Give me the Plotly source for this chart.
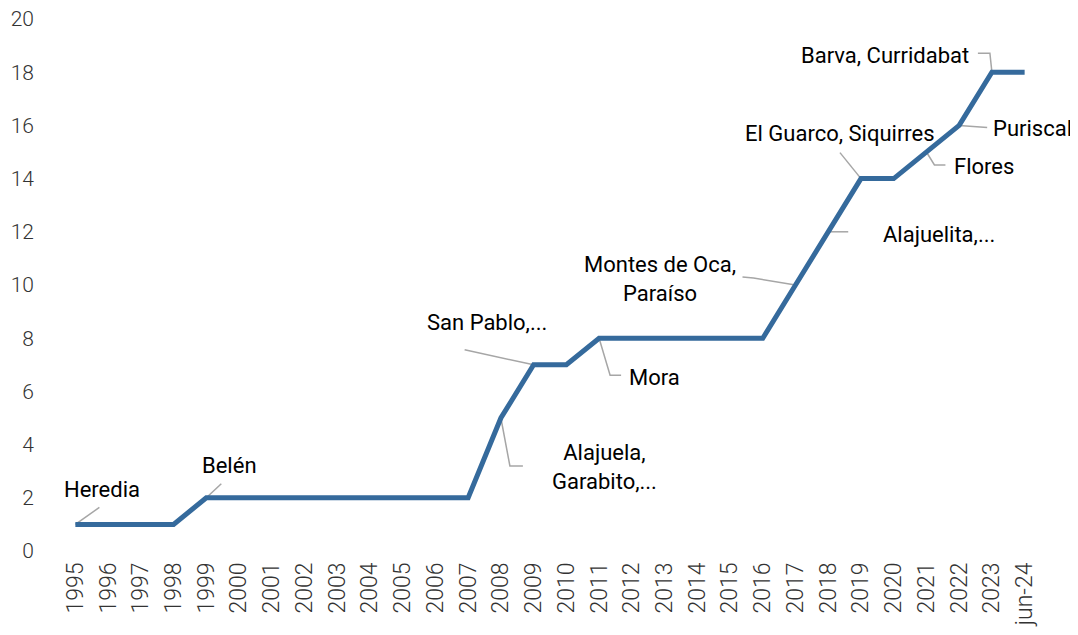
import plotly.graph_objects as go

# ── data ──────────────────────────────────────────────────────────────
periods = ["1995", "1996", "1997", "1998", "1999", "2000", "2001", "2002",
           "2003", "2004", "2005", "2006", "2007", "2008", "2009", "2010",
           "2011", "2012", "2013", "2014", "2015", "2016", "2017", "2018",
           "2019", "2020", "2021", "2022", "2023", "jun-24"]
municipios = [1, 1, 1, 1, 2, 2, 2, 2, 2, 2, 2, 2, 2, 5, 7, 7,
              8, 8, 8, 8, 8, 8, 10, 12, 14, 14, 15, 16, 18, 18]

label_period = ["1995", "1999", "2009", "2008", "2011", "2017", "2018",
                "2019", "2021", "2022", "2023"]
label_text = ["Heredia", "Belén", "San Pablo,...", "Alajuela,<br>Garabito,...",
              "Mora", "Montes de Oca,<br>Paraíso", "Alajuelita,...",
              "El Guarco, Siquirres", "Flores", "Puriscal", "Barva, Curridabat"]

# ── layout geometry (pixels) ──────────────────────────────────────────
# page body has an 8px margin, so the figure is a bit smaller than the window
W, H = 1070, 627
ML, MR, MT, MB = 51, 37, 11, 84
X0, X1 = -0.5, len(periods) - 0.5
Y0, Y1 = 0, 20
PX = (W - ML - MR) / (X1 - X0)   # px per category
PY = (H - MT - MB) / (Y1 - Y0)   # px per unit

# text offset from point and leader path (pixel offsets, y down)
text_off = [(27, -35), (23, -32), (-47, -42), (104, 49), (55, 39),
            (-136, -6), (111, 3), (-21, -45), (58, 14), (73, 3), (-107, -17)]
leader_px = [
    [(0, 0), (24, -17)],
    [(0, 0), (15, -14)],
    [(0, 0), (-69, -15)],
    [(0, 0), (9, 48), (22, 48)],
    [(0, 0), (11, 37), (22, 37)],
    [(0, 0), (-42, -7), (-53, -8)],
    [(0, 0), (20, 0)],
    [(0, 0), (-21, -26)],
    [(0, 0), (8, 13), (19, 13)],
    [(0, 0), (28, 2)],
    [(0, 0), (-2, -19), (-14, -19)],
]

LINE_COLOR = "#356A9C"
LEADER_COLOR = "#A6A6A6"
FONT = "Roboto"

xs = list(range(len(periods)))
fig = go.Figure()

for per, path in zip(label_period, leader_px):
    i = periods.index(per)
    v = municipios[i]
    fig.add_trace(go.Scatter(
        x=[i + dx / PX for dx, dy in path],
        y=[v - dy / PY for dx, dy in path],
        mode="lines", line=dict(color=LEADER_COLOR, width=1.5),
        hoverinfo="skip", showlegend=False, cliponaxis=False,
    ))

fig.add_trace(go.Scatter(
    x=xs, y=municipios, mode="lines",
    line=dict(color=LINE_COLOR, width=5),
    customdata=periods, hovertemplate="%{customdata}: %{y}<extra></extra>",
    showlegend=False, cliponaxis=False,
))

for per, txt, (dx, dy) in zip(label_period, label_text, text_off):
    i = periods.index(per)
    v = municipios[i]
    fig.add_annotation(
        x=i + dx / PX, y=v - dy / PY, text=txt, showarrow=False,
        xanchor="center", yanchor="middle", align="center",
        font=dict(family=FONT, size=22, color="#000000"),
    )

fig.update_layout(
    width=W, height=H,
    margin=dict(l=ML, r=MR, t=MT, b=MB, autoexpand=False),
    plot_bgcolor="white", paper_bgcolor="white",
    font=dict(family=FONT, size=20, color="#333333"),
    xaxis=dict(range=[X0, X1], tickvals=xs, ticktext=periods, tickangle=-90,
               showgrid=False, zeroline=False, showline=False, automargin=False,
               ticklabeloverflow="allow",
               ticklabelstandoff=6, tickfont=dict(size=23, weight=300, color="#333333")),
    yaxis=dict(range=[Y0, Y1], tickvals=list(range(0, 21, 2)),
               showgrid=False, zeroline=False, showline=False, automargin=False,
               ticklabeloverflow="allow",
               ticklabelstandoff=24, tickfont=dict(size=21, weight=300, color="#333333")),
)

fig.write_html("out.html")
